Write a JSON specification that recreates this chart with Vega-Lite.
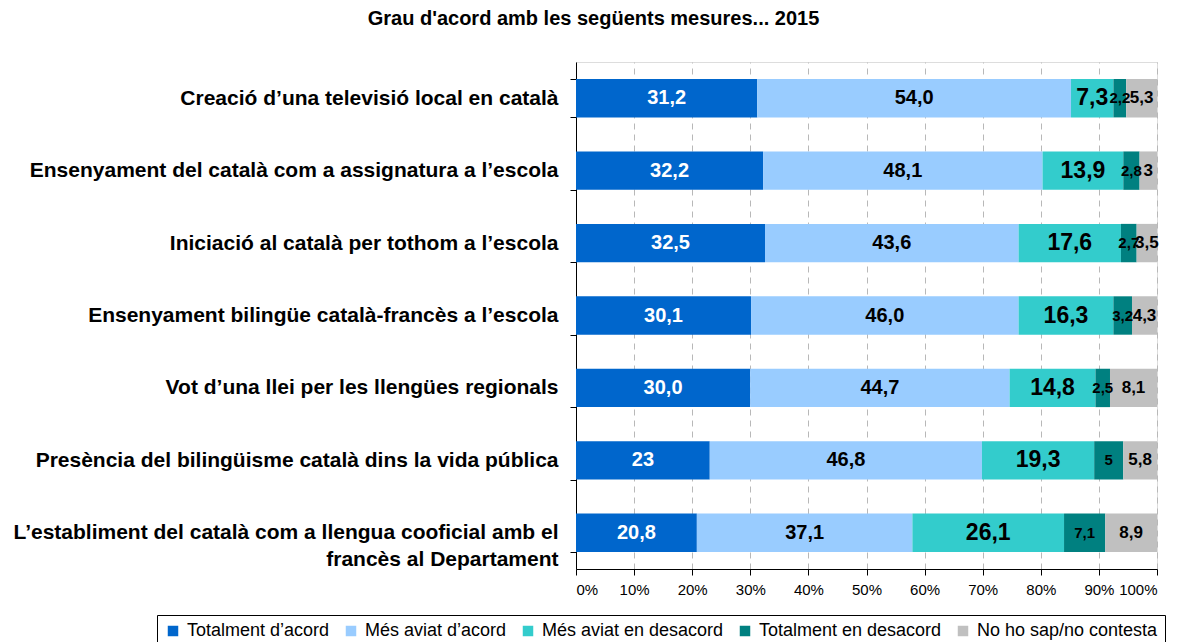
{
  "$schema": "https://vega.github.io/schema/vega-lite/v6.json",
  "autosize": {"type": "none"},
  "width": 581,
  "height": 507,
  "padding": {"left": 576, "top": 62, "right": 29, "bottom": 73},
  "background": "white",
  "title": {
    "text": "Grau d'acord amb les següents mesures... 2015",
    "font": "Liberation Sans",
    "fontSize": 20,
    "fontWeight": "bold",
    "color": "black",
    "anchor": "middle",
    "dx": -273,
    "offset": 22
  },
  "data": {
    "values": [
      {"m": "Creació d’una televisió local en català", "s": "Totalment d’acord", "v": 31.2, "t": "31,2"},
      {"m": "Creació d’una televisió local en català", "s": "Més aviat d’acord", "v": 54.0, "t": "54,0"},
      {"m": "Creació d’una televisió local en català", "s": "Més aviat en desacord", "v": 7.3, "t": "7,3"},
      {"m": "Creació d’una televisió local en català", "s": "Totalment en desacord", "v": 2.2, "t": "2,2"},
      {"m": "Creació d’una televisió local en català", "s": "No ho sap/no contesta", "v": 5.3, "t": "5,3"},
      {"m": "Ensenyament del català com a assignatura a l’escola", "s": "Totalment d’acord", "v": 32.2, "t": "32,2"},
      {"m": "Ensenyament del català com a assignatura a l’escola", "s": "Més aviat d’acord", "v": 48.1, "t": "48,1"},
      {"m": "Ensenyament del català com a assignatura a l’escola", "s": "Més aviat en desacord", "v": 13.9, "t": "13,9"},
      {"m": "Ensenyament del català com a assignatura a l’escola", "s": "Totalment en desacord", "v": 2.8, "t": "2,8"},
      {"m": "Ensenyament del català com a assignatura a l’escola", "s": "No ho sap/no contesta", "v": 3.0, "t": "3"},
      {"m": "Iniciació al català per tothom a l’escola", "s": "Totalment d’acord", "v": 32.5, "t": "32,5"},
      {"m": "Iniciació al català per tothom a l’escola", "s": "Més aviat d’acord", "v": 43.6, "t": "43,6"},
      {"m": "Iniciació al català per tothom a l’escola", "s": "Més aviat en desacord", "v": 17.6, "t": "17,6"},
      {"m": "Iniciació al català per tothom a l’escola", "s": "Totalment en desacord", "v": 2.7, "t": "2,7"},
      {"m": "Iniciació al català per tothom a l’escola", "s": "No ho sap/no contesta", "v": 3.5, "t": "3,5"},
      {"m": "Ensenyament bilingüe català-francès a l’escola", "s": "Totalment d’acord", "v": 30.1, "t": "30,1"},
      {"m": "Ensenyament bilingüe català-francès a l’escola", "s": "Més aviat d’acord", "v": 46.0, "t": "46,0"},
      {"m": "Ensenyament bilingüe català-francès a l’escola", "s": "Més aviat en desacord", "v": 16.3, "t": "16,3"},
      {"m": "Ensenyament bilingüe català-francès a l’escola", "s": "Totalment en desacord", "v": 3.2, "t": "3,2"},
      {"m": "Ensenyament bilingüe català-francès a l’escola", "s": "No ho sap/no contesta", "v": 4.3, "t": "4,3"},
      {"m": "Vot d’una llei per les llengües regionals", "s": "Totalment d’acord", "v": 30.0, "t": "30,0"},
      {"m": "Vot d’una llei per les llengües regionals", "s": "Més aviat d’acord", "v": 44.7, "t": "44,7"},
      {"m": "Vot d’una llei per les llengües regionals", "s": "Més aviat en desacord", "v": 14.8, "t": "14,8"},
      {"m": "Vot d’una llei per les llengües regionals", "s": "Totalment en desacord", "v": 2.5, "t": "2,5"},
      {"m": "Vot d’una llei per les llengües regionals", "s": "No ho sap/no contesta", "v": 8.1, "t": "8,1"},
      {"m": "Presència del bilingüisme català dins la vida pública", "s": "Totalment d’acord", "v": 23.0, "t": "23"},
      {"m": "Presència del bilingüisme català dins la vida pública", "s": "Més aviat d’acord", "v": 46.8, "t": "46,8"},
      {"m": "Presència del bilingüisme català dins la vida pública", "s": "Més aviat en desacord", "v": 19.3, "t": "19,3"},
      {"m": "Presència del bilingüisme català dins la vida pública", "s": "Totalment en desacord", "v": 5.0, "t": "5"},
      {"m": "Presència del bilingüisme català dins la vida pública", "s": "No ho sap/no contesta", "v": 5.8, "t": "5,8"},
      {"m": "L’establiment del català com a llengua cooficial amb el francès al Departament", "s": "Totalment d’acord", "v": 20.8, "t": "20,8"},
      {"m": "L’establiment del català com a llengua cooficial amb el francès al Departament", "s": "Més aviat d’acord", "v": 37.1, "t": "37,1"},
      {"m": "L’establiment del català com a llengua cooficial amb el francès al Departament", "s": "Més aviat en desacord", "v": 26.1, "t": "26,1"},
      {"m": "L’establiment del català com a llengua cooficial amb el francès al Departament", "s": "Totalment en desacord", "v": 7.1, "t": "7,1"},
      {"m": "L’establiment del català com a llengua cooficial amb el francès al Departament", "s": "No ho sap/no contesta", "v": 8.9, "t": "8,9"}
    ]
  },
  "transform": [
    {"calculate": "indexof(['Totalment d’acord','Més aviat d’acord','Més aviat en desacord','Totalment en desacord','No ho sap/no contesta'], datum.s)", "as": "k"},
    {"joinaggregate": [{"op": "sum", "field": "v", "as": "total"}], "groupby": ["m"]},
    {"window": [{"op": "sum", "field": "v", "as": "cum"}], "groupby": ["m"], "sort": [{"field": "k", "order": "ascending"}], "frame": [null, 0]},
    {"calculate": "(datum.cum - datum.v) / datum.total", "as": "x0"},
    {"calculate": "datum.cum / datum.total", "as": "x1"},
    {"calculate": "(datum.cum - datum.v / 2) / datum.total", "as": "xm"}
  ],
  "encoding": {
    "y": {
      "field": "m",
      "type": "nominal",
      "sort": null,
      "title": null,
      "scale": {"paddingInner": 0.47, "paddingOuter": 0.235},
      "axis": {
        "labelExpr": "datum.value == 'L’establiment del català com a llengua cooficial amb el francès al Departament' ? ['L’establiment del català com a llengua cooficial amb el', 'francès al Departament'] : datum.value",
        "labelFont": "Liberation Sans",
        "labelFontSize": 21,
        "labelFontWeight": "bold",
        "labelColor": "black",
        "labelLimit": 700,
        "labelPadding": 12,
        "labelLineHeight": 27,
        "tickBand": "extent",
        "tickSize": 6,
        "tickColor": "black",
        "domainColor": "black",
        "grid": false
      }
    }
  },
  "layer": [
    {
      "mark": {"type": "bar"},
      "encoding": {
        "x": {
          "field": "x0",
          "type": "quantitative",
          "scale": {"domain": [0, 1], "nice": false},
          "title": null,
          "axis": {
            "format": ".0%",
            "values": [0, 0.1, 0.2, 0.3, 0.4, 0.5, 0.6, 0.7, 0.8, 0.9, 1],
            "labelFont": "Liberation Sans",
            "labelFontSize": 15,
            "labelColor": "black",
            "labelPadding": 7,
            "tickSize": 6,
            "tickColor": "black",
            "domainColor": "black",
            "grid": true,
            "gridColor": "#b8b8b8",
            "gridDash": [6, 5],
            "gridWidth": 1
          }
        },
        "x2": {"field": "x1"},
        "color": {
          "field": "s",
          "type": "nominal",
          "scale": {
            "domain": ["Totalment d’acord", "Més aviat d’acord", "Més aviat en desacord", "Totalment en desacord", "No ho sap/no contesta"],
            "range": ["#0066CC", "#99CCFF", "#33CCCC", "#008080", "#C0C0C0"]
          },
          "legend": {
            "title": null,
            "orient": "none",
            "legendX": -419,
            "legendY": 553,
            "direction": "horizontal",
            "columns": 5,
            "columnPadding": 12,
            "symbolType": "square",
            "symbolSize": 110,
            "symbolStrokeWidth": 0,
            "labelFont": "Liberation Sans",
            "labelFontSize": 18,
            "labelColor": "black",
            "labelOffset": 5,
            "labelLimit": 300,
            "strokeColor": "black",
            "padding": 7
          }
        }
      }
    },
    {
      "transform": [{"filter": "datum.k <= 1"}],
      "mark": {"type": "text", "font": "Liberation Sans", "fontWeight": "bold", "fontSize": 20, "align": "center", "baseline": "middle"},
      "encoding": {
        "x": {"field": "xm", "type": "quantitative"},
        "text": {"field": "t"},
        "color": {"condition": {"test": "datum.k == 0", "value": "white"}, "value": "black"}
      }
    },
    {
      "transform": [{"filter": "datum.k == 2"}],
      "mark": {"type": "text", "font": "Liberation Sans", "fontWeight": "bold", "fontSize": 23, "align": "center", "baseline": "middle", "color": "black"},
      "encoding": {
        "x": {"field": "xm", "type": "quantitative"},
        "text": {"field": "t"}
      }
    },
    {
      "transform": [{"filter": "datum.k == 3"}],
      "mark": {"type": "text", "font": "Liberation Sans", "fontWeight": "bold", "fontSize": 15, "align": "center", "baseline": "middle", "color": "black"},
      "encoding": {
        "x": {"field": "xm", "type": "quantitative"},
        "text": {"field": "t"}
      }
    },
    {
      "transform": [{"filter": "datum.k == 4"}],
      "mark": {"type": "text", "font": "Liberation Sans", "fontWeight": "bold", "fontSize": 17, "align": "center", "baseline": "middle", "color": "black"},
      "encoding": {
        "x": {"field": "xm", "type": "quantitative"},
        "text": {"field": "t"}
      }
    }
  ]
}
